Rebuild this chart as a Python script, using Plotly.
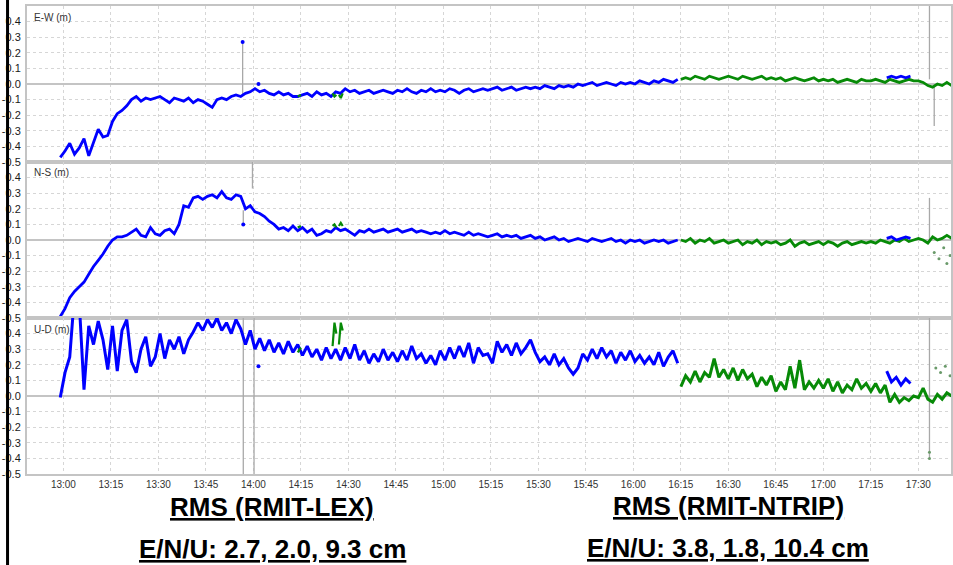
import pandas as pd
import plotly.graph_objects as go
from plotly.subplots import make_subplots

# ---------------- data (minutes after 12:00, metres) ----------------
BASE = pd.Timestamp("2013-01-01 12:00")

# sampling instants (minutes after 12:00)
blue_min = [59 + 1.5 * i for i in range(131)]      # 12:59 .. 16:14
green_min = [255 + 1.5 * i for i in range(58)]     # 16:15 .. 17:40
blue_end_min = [320, 321.5, 323, 324.5, 326, 327.5]
green_bit_min = [134.0, 135.0, None, 145.0, 145.6, 146.2, None, 147.0, 147.6, 148.2]

ew_blue = [
    -0.47, -0.43, -0.38, -0.45, -0.41, -0.35, -0.46, -0.38, -0.29, -0.34,
    -0.33, -0.24, -0.19, -0.17, -0.14, -0.10, -0.08, -0.11, -0.09, -0.10,
    -0.09, -0.08, -0.10, -0.12, -0.09, -0.10, -0.11, -0.09, -0.12, -0.10,
    -0.11, -0.13, -0.15, -0.10, -0.09, -0.10, -0.08, -0.07, -0.08, -0.06,
    -0.05, -0.03, -0.05, -0.04, -0.06, -0.07, -0.05, -0.07, -0.06, -0.08,
    -0.08, -0.07, -0.06, -0.08, -0.05, -0.07, -0.06, -0.08, -0.05, -0.06,
    -0.03, -0.05, -0.04, -0.06, -0.05, -0.04, -0.06, -0.05, -0.04, -0.05,
    -0.06, -0.04, -0.05, -0.03, -0.05, -0.06, -0.04, -0.05, -0.03, -0.05,
    -0.04, -0.05, -0.03, -0.04, -0.06, -0.04, -0.03, -0.05, -0.04, -0.03,
    -0.04, -0.03, -0.02, -0.04, -0.03, -0.02, -0.04, -0.03, -0.02, -0.03,
    -0.02, -0.03, -0.01, -0.02, -0.03, -0.01, -0.02, -0.01, -0.02, 0.00,
    -0.01, 0.00, 0.01, -0.01, 0.00, 0.01, 0.00, -0.01, 0.01, 0.00,
    0.01, 0.00, 0.02, 0.01, 0.00, 0.02, 0.01, 0.03, 0.02, 0.01,
    0.03]
ns_blue = [
    -0.49, -0.44, -0.37, -0.33, -0.30, -0.27, -0.22, -0.17, -0.13, -0.09,
    -0.04, 0.00, 0.02, 0.02, 0.03, 0.05, 0.07, 0.03, 0.02, 0.08,
    0.04, 0.03, 0.06, 0.07, 0.04, 0.10, 0.22, 0.21, 0.27, 0.28,
    0.26, 0.28, 0.29, 0.27, 0.31, 0.27, 0.26, 0.29, 0.28, 0.20,
    0.22, 0.18, 0.17, 0.15, 0.12, 0.10, 0.07, 0.08, 0.06, 0.09,
    0.06, 0.08, 0.05, 0.07, 0.03, 0.04, 0.06, 0.05, 0.08, 0.06,
    0.07, 0.05, 0.03, 0.06, 0.05, 0.07, 0.05, 0.06, 0.07, 0.05,
    0.06, 0.07, 0.05, 0.06, 0.07, 0.05, 0.06, 0.05, 0.04, 0.05,
    0.04, 0.06, 0.04, 0.05, 0.04, 0.03, 0.05, 0.03, 0.04, 0.03,
    0.02, 0.03, 0.04, 0.02, 0.03, 0.02, 0.03, 0.01, 0.02, 0.03,
    0.01, 0.02, 0.00, 0.01, 0.02, 0.00, 0.01, -0.01, 0.00, 0.01,
    0.00, -0.01, 0.01, 0.00, -0.01, 0.00, 0.01, -0.01, 0.00, -0.02,
    0.00, -0.01, 0.00, -0.02, -0.01, 0.00, -0.01, 0.00, -0.02, -0.01,
    0.00]
ud_blue = [
    -0.01, 0.15, 0.25, 0.65, 0.60, 0.04, 0.45, 0.33, 0.48, 0.36,
    0.17, 0.45, 0.16, 0.42, 0.49, 0.22, 0.15, 0.30, 0.38, 0.19,
    0.25, 0.40, 0.24, 0.36, 0.30, 0.38, 0.27, 0.36, 0.41, 0.47,
    0.42, 0.49, 0.44, 0.50, 0.42, 0.47, 0.40, 0.49, 0.43, 0.33,
    0.42, 0.30, 0.37, 0.29, 0.36, 0.28, 0.34, 0.27, 0.35, 0.28,
    0.33, 0.26, 0.32, 0.25, 0.30, 0.23, 0.31, 0.24, 0.30, 0.23,
    0.31, 0.24, 0.33, 0.23, 0.29, 0.21, 0.27, 0.22, 0.30, 0.23,
    0.28, 0.22, 0.29, 0.23, 0.32, 0.24, 0.27, 0.21, 0.26, 0.20,
    0.29, 0.23, 0.31, 0.24, 0.32, 0.25, 0.34, 0.21, 0.31, 0.26,
    0.27, 0.21, 0.35, 0.28, 0.33, 0.26, 0.34, 0.27, 0.31, 0.36,
    0.28, 0.22, 0.25, 0.20, 0.27, 0.20, 0.24, 0.18, 0.14, 0.18,
    0.27, 0.23, 0.30, 0.24, 0.31, 0.25, 0.29, 0.21, 0.28, 0.23,
    0.29, 0.22, 0.26, 0.21, 0.25, 0.20, 0.28, 0.19, 0.25, 0.29,
    0.21]

ew_green = [
    0.03, 0.04, 0.03, 0.05, 0.04, 0.03, 0.05, 0.04, 0.03, 0.04,
    0.05, 0.04, 0.03, 0.05, 0.04, 0.03, 0.04, 0.05, 0.03, 0.04,
    0.03, 0.04, 0.02, 0.03, 0.04, 0.03, 0.02, 0.03, 0.04, 0.02,
    0.03, 0.02, 0.03, 0.01, 0.02, 0.03, 0.02, 0.01, 0.03, 0.02,
    0.02, 0.03, 0.02, 0.01, 0.03, 0.02, 0.01, 0.02, 0.03, 0.02,
    0.02, 0.01, -0.01, -0.02, 0.00, -0.01, 0.01, -0.01]
ns_green = [
    0.00, -0.01, 0.01, -0.02, 0.00, -0.01, 0.01, -0.02, -0.01, 0.00,
    -0.02, -0.01, 0.00, -0.03, -0.01, -0.02, 0.00, -0.03, -0.01, -0.02,
    -0.01, -0.03, -0.02, 0.00, -0.04, -0.02, -0.01, -0.03, -0.02, -0.01,
    -0.03, -0.01, -0.02, -0.04, -0.02, -0.01, -0.03, -0.02, -0.01, -0.02,
    -0.01, -0.02, 0.00, -0.01, -0.02, 0.00, -0.01, 0.01, -0.01, 0.00,
    0.01, 0.00, -0.02, 0.02, 0.00, 0.01, 0.03, 0.01]
ud_green = [
    0.06, 0.13, 0.09, 0.16, 0.09, 0.15, 0.12, 0.24, 0.12, 0.17,
    0.11, 0.18, 0.10, 0.17, 0.11, 0.14, 0.06, 0.12, 0.07, 0.13,
    0.03, 0.09, 0.04, 0.19, 0.05, 0.23, 0.04, 0.09, 0.05, 0.10,
    0.05, 0.11, 0.03, 0.09, 0.02, 0.07, 0.04, 0.11, 0.05, 0.08,
    0.03, 0.08, 0.02, 0.07, -0.04, 0.01, -0.04, -0.01, -0.03, 0.00,
    -0.01, 0.05, -0.02, -0.04, 0.01, -0.02, 0.02, 0.00]

ew_blue_end = [0.04, 0.05, 0.04, 0.05, 0.04, 0.05]
ns_blue_end = [0.01, 0.02, 0.00, 0.01, 0.02, 0.01]
ud_blue_end = [0.16, 0.09, 0.12, 0.07, 0.11, 0.08]

ew_green_bits = [-0.08, -0.07, None, -0.06, -0.08, -0.07, None, -0.07, -0.09, -0.06]
ns_green_bits = [0.08, 0.09, None, 0.09, 0.10, 0.08, None, 0.09, 0.11, 0.09]
ud_green_bits = [0.28, 0.31, None, 0.32, 0.47, 0.40, None, 0.33, 0.47, 0.42]

# outlier jumps (grey connecting lines): minute, value pairs separated by None
ew_jump_min = [116.6, 116.6, None, 333.5, 333.5, None, 335.0, 335.0]
ew_jump_val = [-0.07, 0.27, None, 0.55, 0.03, None, 0.00, -0.27]
ns_jump_min = [119.7, 119.7, None, 116.8, 116.8, None, 333.5, 333.5]
ns_jump_val = [0.55, 0.33, None, 0.19, 0.10, None, 0.27, 0.00]
ud_jump_min = [116.8, 116.8, None, 120.2, 120.2, None, 333.5, 333.5]
ud_jump_val = [0.55, -0.55, None, 0.55, -0.55, None, 0.55, -0.40]

# isolated samples
ew_dot_min, ew_dot_val = [116.6, 121.6], [0.27, 0.00]
ns_dot_min, ns_dot_val = [116.8], [0.10]
ud_dot_min, ud_dot_val = [121.6], [0.19]
ns_gdot_min = [335.0, 336.5, 338.0, 339.0, 340.0]
ns_gdot_val = [-0.08, -0.12, -0.05, -0.15, -0.10]
ud_gdot_min = [333.5, 333.5, 335.5, 337.0, 338.5, 340.0]
ud_gdot_val = [-0.40, -0.36, 0.18, 0.15, 0.19, 0.13]

panel_names = ["E-W (m)", "N-S (m)", "U-D (m)"]
y_ticks = [-0.5, -0.4, -0.3, -0.2, -0.1, 0.0, 0.1, 0.2, 0.3, 0.4]
y_tick_text = ["-0.5", "-0.4", "-0.3", "-0.2", "-0.1", "0.0", "0.1", "0.2", "0.3", "0.4"]

BLUE = "#0000ff"
GREEN = "#078a07"
GREY = "#a8a8a8"


def ts(mins):
    return [None if m is None else BASE + pd.Timedelta(minutes=m) for m in mins]


fig = make_subplots(rows=3, cols=1, shared_xaxes=True, vertical_spacing=0)

panels = [
    (ew_blue, ew_green, ew_blue_end, ew_green_bits, ew_jump_min, ew_jump_val,
     ew_dot_min, ew_dot_val, [], []),
    (ns_blue, ns_green, ns_blue_end, ns_green_bits, ns_jump_min, ns_jump_val,
     ns_dot_min, ns_dot_val, ns_gdot_min, ns_gdot_val),
    (ud_blue, ud_green, ud_blue_end, ud_green_bits, ud_jump_min, ud_jump_val,
     ud_dot_min, ud_dot_val, ud_gdot_min, ud_gdot_val),
]

for r, (b, g, be, gb, jm, jv, dm, dv, gm, gv) in enumerate(panels, start=1):
    lw = 3.0 if r == 3 else 2.8
    fig.add_trace(go.Scatter(x=ts(jm), y=jv, mode="lines",
                             line=dict(color=GREY, width=1.3)), row=r, col=1)
    fig.add_trace(go.Scatter(x=ts(blue_min), y=b, mode="lines",
                             line=dict(color=BLUE, width=lw)), row=r, col=1)
    fig.add_trace(go.Scatter(x=ts(green_min), y=g, mode="lines",
                             line=dict(color=GREEN, width=lw)), row=r, col=1)
    fig.add_trace(go.Scatter(x=ts(blue_end_min), y=be, mode="lines",
                             line=dict(color=BLUE, width=lw)), row=r, col=1)
    fig.add_trace(go.Scatter(x=ts(green_bit_min), y=gb, mode="lines",
                             line=dict(color=GREEN, width=2.2)), row=r, col=1)
    fig.add_trace(go.Scatter(x=ts(dm), y=dv, mode="markers",
                             marker=dict(color=BLUE, size=4)), row=r, col=1)
    if gm:
        fig.add_trace(go.Scatter(x=ts(gm), y=gv, mode="markers",
                                 marker=dict(color="#6a9a6a", size=3)), row=r, col=1)

    fig.update_yaxes(row=r, col=1, range=[-0.5, 0.5], tickvals=y_ticks,
                     ticktext=y_tick_text, showgrid=True, gridcolor="#d6d6d6",
                     griddash="dot", gridwidth=1, zeroline=True,
                     zerolinecolor="#c4c4c4", zerolinewidth=2, showline=True,
                     linecolor="#c4c4c4", linewidth=2, mirror=True, ticks="",
                     ticklabelstandoff=2,
                     tickfont=dict(family="Arial, Liberation Sans", size=11,
                                   color="#1a1a1a"))
    fig.update_xaxes(row=r, col=1, type="date",
                     range=[BASE + pd.Timedelta(minutes=48.5),
                            BASE + pd.Timedelta(minutes=340.3)],
                     tick0=BASE + pd.Timedelta(minutes=60), dtick=15 * 60 * 1000,
                     tickformat="%H:%M", showgrid=True, gridcolor="#d6d6d6",
                     griddash="dot", gridwidth=1, showline=True,
                     linecolor="#c4c4c4", linewidth=2, mirror=True, ticks="",
                     tickfont=dict(family="Arial, Liberation Sans", size=10,
                                   color="#333333"))

# layout in pixels -> paper coordinates
W, H = 953, 565
L, R, T, B = 27, 0, 6, 91
pw, ph = W - L - R, H - T - B


def px(x):
    return (x - L) / pw


def py(y):
    return (H - B - y) / ph


ann = []
panel_top_px = [17, 173, 329]
for name, ypx in zip(panel_names, panel_top_px):
    ann.append(dict(text=name, x=px(32), y=py(ypx), xref="paper", yref="paper",
                    xanchor="left", yanchor="middle", showarrow=False,
                    font=dict(family="Arial, Liberation Sans", size=10,
                              color="#333333")))

big = dict(family="Arial, Liberation Sans", size=26, color="#000000")
for text, xc, yc in [("<b><u>RMS (RMIT-LEX)</u></b>", 273, 507),
                     ("<b><u>E/N/U: 2.7, 2.0, 9.3 cm</u></b>", 273, 549),
                     ("<b><u>RMS (RMIT-NTRIP)</u></b>", 730, 506),
                     ("<b><u>E/N/U: 3.8, 1.8, 10.4 cm</u></b>", 730, 548)]:
    ann.append(dict(text=text, x=px(xc), y=py(yc), xref="paper", yref="paper",
                    xanchor="center", yanchor="middle", showarrow=False,
                    font=big))

shapes = [dict(type="line", xref="paper", yref="paper",
               x0=px(7.5), x1=px(7.5), y0=py(0), y1=py(H),
               line=dict(color="#000000", width=3))]

fig.update_layout(width=W, height=H, margin=dict(l=L, r=R, t=T, b=B),
                  paper_bgcolor="white", plot_bgcolor="white",
                  showlegend=False, annotations=ann, shapes=shapes)

fig.write_html("out.html")
